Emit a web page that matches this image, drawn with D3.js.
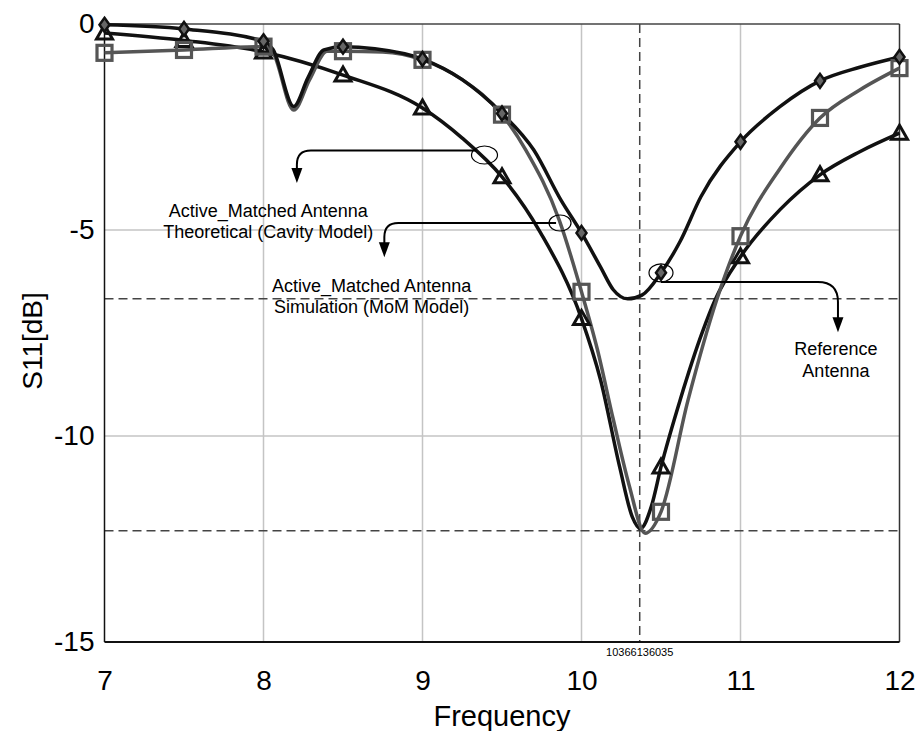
<!DOCTYPE html>
<html>
<head>
<meta charset="utf-8">
<script src="https://cdn.jsdelivr.net/npm/d3@7/dist/d3.min.js"></script>
<style>
  html, body { margin: 0; padding: 0; background: #fff; }
  svg text { font-family: "Liberation Sans", Arial, sans-serif; }
</style>
</head>
<body>
<svg id="chart" width="916" height="731"></svg>
<script>
// ---------------- data ----------------
const xTicks = [7, 8, 9, 10, 11, 12];
const yTicks = [0, -5, -10, -15];
const xGrid = [8, 9, 10, 11];
const yGrid = [-5, -10];
const markerFreqs = [7, 7.5, 8, 8.5, 9, 9.5, 10, 10.5, 11, 11.5, 12];

// Reference Antenna (black, diamonds)
const refFreq = [7, 7.5, 8, 8.06, 8.19, 8.28, 8.38, 8.5, 8.7, 9, 9.25, 9.5, 9.7, 9.87, 10, 10.12, 10.2, 10.29, 10.38, 10.5, 10.62, 10.75, 11, 11.25, 11.5, 11.75, 12];
const refS11 = [-0.02, -0.12, -0.42, -0.62, -2.0, -1.3, -0.63, -0.55, -0.6, -0.85, -1.35, -2.17, -3.06, -4.27, -5.07, -5.9, -6.45, -6.67, -6.58, -6.04, -5.28, -4.2, -2.86, -2.0, -1.38, -1.05, -0.8];

// Active_Matched Antenna Simulation (MoM Model) (gray, squares)
const simFreq = [7, 7.5, 8, 8.06, 8.19, 8.29, 8.4, 8.5, 8.75, 9, 9.25, 9.5, 9.65, 9.86, 10, 10.1, 10.2, 10.3, 10.4, 10.5, 10.67, 10.85, 11, 11.25, 11.5, 11.75, 12];
const simS11 = [-0.7, -0.63, -0.55, -0.7, -2.09, -1.35, -0.66, -0.66, -0.68, -0.87, -1.35, -2.2, -3.06, -4.76, -6.5, -7.9, -9.6, -11.2, -12.36, -11.84, -9.13, -6.7, -5.15, -3.5, -2.28, -1.6, -1.07];

// Active_Matched Antenna Theoretical (Cavity Model) (black, triangles)
const thFreq = [7, 7.5, 8, 8.5, 9, 9.25, 9.5, 9.74, 10, 10.12, 10.24, 10.32, 10.37, 10.44, 10.5, 10.62, 10.76, 10.84, 11, 11.25, 11.5, 11.75, 12];
const thS11 = [-0.22, -0.4, -0.68, -1.24, -2.04, -2.77, -3.71, -5.05, -7.15, -8.64, -10.75, -11.97, -12.25, -11.7, -10.75, -9.13, -7.48, -6.7, -5.65, -4.5, -3.66, -3.1, -2.65];

// marker lines
const resonanceFreq = 10.366136035;
const refLevels = [-6.67, -12.3];

// annotation texts
const ann1Text = ["Active_Matched Antenna", "Theoretical (Cavity Model)"];
const ann2Text = ["Active_Matched Antenna", "Simulation (MoM Model)"];
const ann3Text = ["Reference", "Antenna"];

// ---------------- drawing ----------------
const svg = d3.select("#chart");
const L = 104.5, R = 899.5, T = 24, B = 642;
const x = d3.scaleLinear().domain([7, 12]).range([L, R]);
const y = d3.scaleLinear().domain([-15, 0]).range([B, T]);

// grid
svg.append("g").selectAll("line").data(xGrid).join("line")
  .attr("x1", d => x(d)).attr("x2", d => x(d)).attr("y1", T).attr("y2", B)
  .attr("stroke", "#c4c4c4").attr("stroke-width", 1.5);
svg.append("g").selectAll("line").data(yGrid).join("line")
  .attr("y1", d => y(d)).attr("y2", d => y(d)).attr("x1", L).attr("x2", R)
  .attr("stroke", "#c4c4c4").attr("stroke-width", 1.5);

// dashed reference lines
svg.append("g").selectAll("line").data(refLevels).join("line")
  .attr("y1", d => y(d)).attr("y2", d => y(d)).attr("x1", L).attr("x2", R)
  .attr("stroke", "#444").attr("stroke-width", 1.5).attr("stroke-dasharray", "9,5");
svg.append("line")
  .attr("x1", x(resonanceFreq)).attr("x2", x(resonanceFreq)).attr("y1", T).attr("y2", B)
  .attr("stroke", "#444").attr("stroke-width", 1.5).attr("stroke-dasharray", "9,5");

// frame
svg.append("line").attr("x1", L).attr("x2", R).attr("y1", T).attr("y2", T).attr("stroke", "#444").attr("stroke-width", 1.5);
svg.append("line").attr("x1", R).attr("x2", R).attr("y1", T).attr("y2", B).attr("stroke", "#333").attr("stroke-width", 1.5);
svg.append("line").attr("x1", L).attr("x2", L).attr("y1", T).attr("y2", B).attr("stroke", "#111").attr("stroke-width", 1.5);
svg.append("line").attr("x1", L).attr("x2", R).attr("y1", B).attr("y2", B).attr("stroke", "#111").attr("stroke-width", 2);

// axes
const xAxis = svg.append("g").attr("transform", `translate(0,${B})`)
  .call(d3.axisBottom(x).tickValues(xTicks).tickSize(0).tickPadding(38).tickFormat(d => String(d)));
xAxis.select(".domain").remove();
xAxis.selectAll("text").attr("font-size", 28).attr("fill", "#000").attr("dy", "0.35em")
  .attr("font-family", "Liberation Sans, Arial, sans-serif");

const yAxis = svg.append("g").attr("transform", `translate(${L},0)`)
  .call(d3.axisLeft(y).tickValues(yTicks).tickSize(0).tickPadding(10).tickFormat(d => String(d)));
yAxis.select(".domain").remove();
yAxis.selectAll("text").attr("font-size", 28).attr("fill", "#000")
  .attr("font-family", "Liberation Sans, Arial, sans-serif");

// axis titles
svg.append("text").attr("x", (L + R) / 2).attr("y", 726).attr("text-anchor", "middle")
  .attr("font-size", 29).text("Frequency");
svg.append("text").attr("transform", `translate(42,${(T + B) / 2 + 8}) rotate(-90)`)
  .attr("text-anchor", "middle").attr("font-size", 28).text("S11[dB]");

// resonance label
svg.append("text").attr("x", x(resonanceFreq)).attr("y", 656).attr("text-anchor", "middle")
  .attr("font-size", 11).text("10366136035");

// lines
const line = d3.line().x(d => x(d[0])).y(d => y(d[1])).curve(d3.curveMonotoneX);
const zip = (a, b) => a.map((v, i) => [v, b[i]]);
const simData = zip(simFreq, simS11);
const refData = zip(refFreq, refS11);
const thData = zip(thFreq, thS11);

svg.append("path").datum(thData).attr("d", line).attr("fill", "none")
  .attr("stroke", "#111").attr("stroke-width", 3.5).attr("stroke-linejoin", "round");
svg.append("path").datum(simData).attr("d", line).attr("fill", "none")
  .attr("stroke", "#555").attr("stroke-width", 3.5).attr("stroke-linejoin", "round");
svg.append("path").datum(refData).attr("d", line).attr("fill", "none")
  .attr("stroke", "#111").attr("stroke-width", 3.5).attr("stroke-linejoin", "round");

const atMarkers = data => data.filter(d => markerFreqs.some(m => Math.abs(m - d[0]) < 1e-9));

// markers: triangles
svg.append("g").selectAll("path").data(atMarkers(thData)).join("path")
  .attr("transform", d => `translate(${x(d[0])},${y(d[1])})`)
  .attr("d", "M0,-8 L8,6 L-8,6 Z")
  .attr("fill", "none").attr("stroke", "#111").attr("stroke-width", 3).attr("stroke-linejoin", "miter");
// squares
svg.append("g").selectAll("rect").data(atMarkers(simData)).join("rect")
  .attr("x", d => x(d[0]) - 7.5).attr("y", d => y(d[1]) - 7.5).attr("width", 15).attr("height", 15)
  .attr("fill", "none").attr("stroke", "#555").attr("stroke-width", 3.2);
// diamonds
svg.append("g").selectAll("path").data(atMarkers(refData)).join("path")
  .attr("transform", d => `translate(${x(d[0])},${y(d[1])})`)
  .attr("d", "M0,-7 L5,0 L0,7 L-5,0 Z")
  .attr("fill", "#666").attr("stroke", "#111").attr("stroke-width", 2.5);

// annotations (anchored in data units)
function arrowHead(g, tx, ty) {
  g.append("path").attr("d", `M${tx},${ty} L${tx - 5.5},${ty - 15} L${tx + 5.5},${ty - 15} Z`).attr("fill", "#000");
}
function annotation(cfg) {
  const g = svg.append("g");
  g.append("ellipse").attr("cx", x(cfg.ef)).attr("cy", y(cfg.ev)).attr("rx", cfg.rx).attr("ry", cfg.ry)
    .attr("fill", "none").attr("stroke", "#000").attr("stroke-width", 1.2);
  const sx = x(cfg.sf), ly = y(cfg.lv), cx = x(cfg.cf), ty = y(cfg.tv), r = cfg.r;
  const dir = cx < sx ? 1 : -1;
  g.append("path")
    .attr("d", `M${sx},${ly} H${cx + dir * r} Q${cx},${ly} ${cx},${ly + r} V${ty - 12}`)
    .attr("fill", "none").attr("stroke", "#000").attr("stroke-width", 2);
  arrowHead(g, cx, ty);
  cfg.text.forEach((t, i) => {
    g.append("text").attr("x", x(cfg.txf)).attr("y", y(cfg.tyv[i])).attr("text-anchor", "middle")
      .attr("dominant-baseline", "middle").attr("font-size", 18).text(t);
  });
}
annotation({ ef: 9.39, ev: -3.18, rx: 13, ry: 9, sf: 9.34, lv: -3.07, cf: 8.21, tv: -3.86, r: 14,
  text: ann1Text, txf: 8.03, tyv: [-4.58, -5.09] });
annotation({ ef: 9.865, ev: -4.83, rx: 11, ry: 8, sf: 9.84, lv: -4.83, cf: 8.76, tv: -5.66, r: 14,
  text: ann2Text, txf: 8.68, tyv: [-6.38, -6.89] });
annotation({ ef: 10.5, ev: -6.04, rx: 12, ry: 9, sf: 10.5, lv: -6.26, cf: 11.613, tv: -7.48, r: 20,
  text: ann3Text, txf: 11.6, tyv: [-7.91, -8.45] });
</script>
</body>
</html>
